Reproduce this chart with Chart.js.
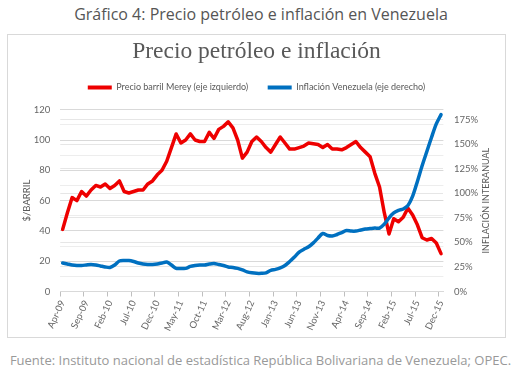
<!DOCTYPE html>
<html><head><meta charset="utf-8">
<script src="https://cdn.jsdelivr.net/npm/chart.js@4.4.1/dist/chart.umd.min.js"></script>
<style>
html,body{margin:0;padding:0;background:#fff;}
body{width:515px;height:383px;position:relative;overflow:hidden;}
#pageTitle{position:absolute;left:0;top:4px;width:522px;text-align:center;font-family:'Open Sans';font-size:16px;line-height:20px;color:#555;white-space:nowrap;}
#box{position:absolute;left:7px;top:34px;width:497px;height:302px;border:1px solid #d9d9d9;}
#src{position:absolute;left:0;top:351px;width:521px;text-align:center;font-family:'Open Sans';font-size:13px;line-height:18px;color:#999;white-space:nowrap;}
canvas{display:block;}
</style></head>
<body>
<div id="pageTitle">Gráfico 4: Precio petróleo e inflación en Venezuela</div>
<div id="box"><canvas id="c" width="497" height="302"></canvas></div>
<div id="src">Fuente: Instituto nacional de estadística República Bolivariana de Venezuela; OPEC.</div>
<script>
const chartTitle = 'Precio petróleo e inflación';
const seriesNames = ['Precio barril Merey (eje izquierdo)', 'Inflación Venezuela (eje derecho)'];
const leftAxisTitle = '$/BARRIL';
const rightAxisTitle = 'INFLACIÓN INTERANUAL';

const months = [
 'Apr-09','May-09','Jun-09','Jul-09','Aug-09','Sep-09','Oct-09','Nov-09','Dec-09',
 'Jan-10','Feb-10','Mar-10','Apr-10','May-10','Jun-10','Jul-10','Aug-10','Sep-10','Oct-10','Nov-10','Dec-10',
 'Jan-11','Feb-11','Mar-11','Apr-11','May-11','Jun-11','Jul-11','Aug-11','Sep-11','Oct-11','Nov-11','Dec-11',
 'Jan-12','Feb-12','Mar-12','Apr-12','May-12','Jun-12','Jul-12','Aug-12','Sep-12','Oct-12','Nov-12','Dec-12',
 'Jan-13','Feb-13','Mar-13','Apr-13','May-13','Jun-13','Jul-13','Aug-13','Sep-13','Oct-13','Nov-13','Dec-13',
 'Jan-14','Feb-14','Mar-14','Apr-14','May-14','Jun-14','Jul-14','Aug-14','Sep-14','Oct-14','Nov-14','Dec-14',
 'Jan-15','Feb-15','Mar-15','Apr-15','May-15','Jun-15','Jul-15','Aug-15','Sep-15','Oct-15','Nov-15','Dec-15'
];

// Precio barril Merey ($/barril), eje izquierdo
const merey = [
 41, 52, 62, 60, 66, 63, 67, 70, 69, 71,
 68, 70, 73, 66, 65, 66, 67, 67, 71, 73,
 77, 80, 86, 95, 104, 98, 100, 104, 100, 99,
 99, 105, 101, 107, 109, 112, 108, 100, 88, 92,
 99, 102, 99, 95, 92, 97, 102, 98, 94, 94,
 95, 96, 98, 97.5, 97, 95, 97, 94, 94, 93.5,
 95, 97, 99, 95, 92, 89, 78, 69, 52, 38,
 48, 46, 49, 55, 50.5, 44, 35.5, 34, 35, 32, 25
];

// Inflación interanual Venezuela (%), eje derecho
const inflation = [
 29, 28, 27, 26.5, 26.5, 27, 27.5, 27, 26, 25,
 24.5, 27, 31, 31.5, 31.5, 30.5, 29, 28, 27.5, 27.5,
 28, 29, 30, 27, 23.5, 23.5, 23.5, 25.5, 26.5, 27,
 27, 28, 28.5, 27.5, 26.5, 25, 24.5, 23.5, 22, 20,
 19, 18.5, 18.5, 19, 21.5, 22.5, 24, 26.5, 30.5, 35,
 40, 43, 45.5, 49.5, 54.5, 59, 57, 56.5, 58, 60,
 62, 61.5, 61.5, 62.5, 63.5, 64, 64.5, 64.5, 68.5, 75,
 80, 82.5, 84, 87.5, 97, 112, 128, 142.5, 157, 170.5, 180
];

const priceTicks = [0, 20, 40, 60, 80, 100, 120];
const priceGrid = [0, 10, 20, 30, 40, 50, 60, 70, 80, 90, 100, 110, 120];
const inflationTicks = [0, 25, 50, 75, 100, 125, 150, 175];
const inflationMax = 185;
const labelEvery = 5;

const chartFont = 'Lato';
const tickColor = '#666666';
const textColor = '#595959';

const legendSpacer = {
  id: 'legendSpacer',
  beforeInit(chart) {
    const fit = chart.legend.fit;
    chart.legend.fit = function () { fit.bind(chart.legend)(); this.height += 7.7; };
  }
};

const rightTitle = {
  id: 'rightTitle',
  afterDraw(chart) {
    const s = chart.scales.y2;
    const ctx = chart.ctx;
    ctx.save();
    ctx.translate(s.right - 18.5, (s.top + s.bottom) / 2);
    ctx.rotate(-Math.PI / 2);
    ctx.font = '9px ' + chartFont;
    ctx.fillStyle = textColor;
    ctx.textAlign = 'center';
    ctx.textBaseline = 'middle';
    ctx.fillText(rightAxisTitle, 0, 0);
    ctx.restore();
  }
};

new Chart(document.getElementById('c'), {
  type: 'line',
  data: {
    labels: months,
    datasets: [
      { label: seriesNames[0], data: merey, yAxisID: 'y', borderColor: '#ee0000', backgroundColor: '#ee0000',
        borderWidth: 3.5, pointRadius: 0, tension: 0, borderJoinStyle: 'round', borderCapStyle: 'round', order: 1 },
      { label: seriesNames[1], data: inflation, yAxisID: 'y2', borderColor: '#0070c0', backgroundColor: '#0070c0',
        borderWidth: 3.5, pointRadius: 0, tension: 0.3, borderJoinStyle: 'round', borderCapStyle: 'round', order: 0 }
    ]
  },
  options: {
    responsive: false, animation: false, devicePixelRatio: 1,
    layout: { padding: 0 },
    plugins: {
      title: { display: true, text: chartTitle, color: textColor,
        font: { family: 'Liberation Serif', size: 23.5, lineHeight: 1, weight: 'normal' },
        padding: { top: 5, bottom: 0 } },
      legend: { display: true, position: 'top',
        labels: { boxWidth: 24, boxHeight: 4, padding: 19.5, color: textColor,
          font: { family: chartFont, size: 9 },
          sort: (a, b) => a.datasetIndex - b.datasetIndex,
          generateLabels(chart) {
            const items = Chart.defaults.plugins.legend.labels.generateLabels(chart);
            items.forEach(it => { it.fillStyle = it.strokeStyle; it.lineWidth = 0; });
            return items;
          } } },
      tooltip: { enabled: false }
    },
    scales: {
      x: {
        type: 'category', offset: true,
        grid: { offset: true, drawOnChartArea: false, drawTicks: true, tickLength: 5,
          tickColor: ctx => (ctx.index !== undefined && ctx.index % labelEvery === 0) ? '#bfbfbf' : 'rgba(0,0,0,0)' },
        border: { display: true, color: '#d9d9d9' },
        ticks: { autoSkip: false, minRotation: 65, maxRotation: 65, padding: 2, color: tickColor,
          font: { family: chartFont, size: 9.5 },
          callback: (v, i) => (i % labelEvery === 0 ? months[i] : '') },
        afterFit: s => { s.height = 45.5; }
      },
      y: {
        position: 'left', min: 0, max: 120,
        afterBuildTicks: s => { s.ticks = priceGrid.map(v => ({ value: v })); },
        grid: { drawTicks: false, color: ctx => (ctx.tick && priceTicks.includes(ctx.tick.value)) ? '#d9d9d9' : '#ededed' },
        border: { display: false },
        ticks: { padding: 10, color: tickColor, font: { family: chartFont, size: 9.5 },
          callback: v => (priceTicks.includes(v) ? String(v) : '') },
        title: { display: true, text: leftAxisTitle, color: textColor, font: { family: chartFont, size: 9.5 },
          padding: { top: 13.6, bottom: 0 } },
        afterFit: s => { s.width = 52.3; }
      },
      y2: {
        position: 'right', min: 0, max: inflationMax,
        afterBuildTicks: s => { s.ticks = inflationTicks.map(v => ({ value: v })); },
        grid: { drawTicks: false, color: '#e6e6e6' },
        border: { display: false },
        ticks: { padding: 10.5, color: tickColor, font: { family: chartFont, size: 9.5 },
          callback: v => v + '%' },
        afterFit: s => { s.width = 61.6; }
      }
    }
  },
  plugins: [legendSpacer, rightTitle]
});
</script>
</body></html>
